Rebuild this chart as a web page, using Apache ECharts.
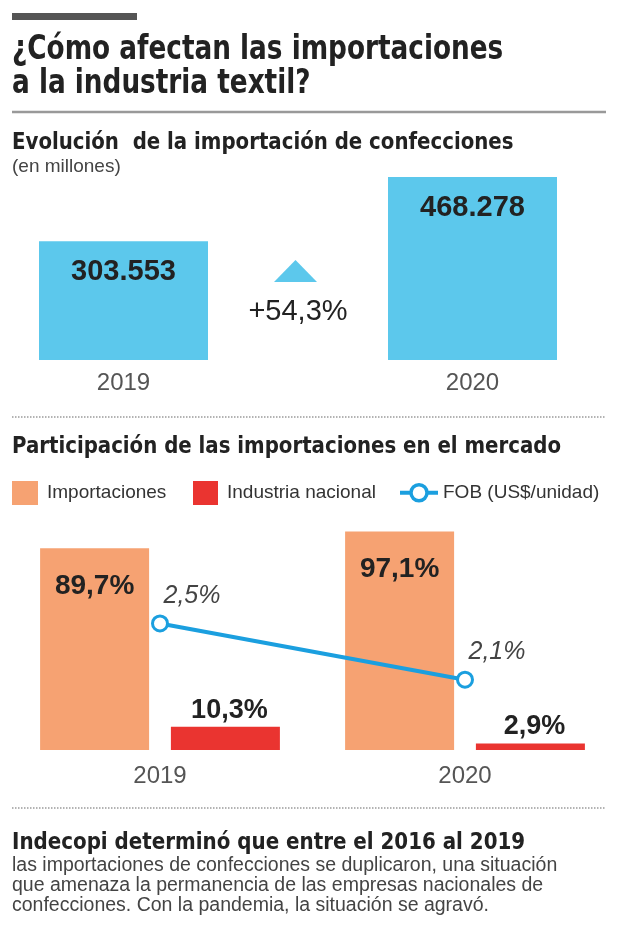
<!DOCTYPE html>
<html><head><meta charset="utf-8">
<script src="https://cdn.jsdelivr.net/npm/echarts@6/dist/echarts.min.js"></script>
<style>html,body{margin:0;padding:0;background:#fff}#c{width:640px;height:930px}</style>
</head><body><div id="c"></div>
<script>
// ---- data ----
const years = ['2019', '2020'];
const importValues = [303.553, 468.278];          // millones
const shareImports = [89.7, 97.1];                // %
const shareNational = [10.3, 2.9];                // %
const fobValues = [2.5, 2.1];                     // FOB (US$/unidad)
const legendNames = ['Importaciones', 'Industria nacional', 'FOB (US$/unidad)'];

const HF = "'DejaVu Sans Condensed','Liberation Sans',sans-serif";
const BF = "'Liberation Sans',Roboto,sans-serif";
const pct = v => v.toFixed(1).replace('.', ',') + '%';
const growth = (importValues[1] / importValues[0] - 1) * 100;

const BLUE = '#5cc8ec', ORANGE = '#f6a272', RED = '#ea3430', LINEBLUE = '#1b9fdf';

const chart = echarts.init(document.getElementById('c'), null, {renderer: 'canvas'});
const dotted = y => ({type: 'line', shape: {x1: 12, y1: y, x2: 606, y2: y},
  style: {stroke: '#9a9a9a', lineWidth: 1.5, lineDash: [1.5, 1.5]}});
const heading = (txt, y, size, sx) => ({type: 'text', x: 12, y: y, scaleX: sx,
  style: {text: txt, font: 'bold ' + size + 'px ' + HF, fill: '#222', textVerticalAlign: 'middle'}});
const body = (txt, y) => ({type: 'text', x: 12, y: y,
  style: {text: txt, font: '19.5px ' + BF, fill: '#444', textVerticalAlign: 'middle'}});

chart.setOption({
  animation: false,
  backgroundColor: '#fff',
  grid: [
    {left: 123.5, right: 167.5, top: 177, height: 183},
    {left: 7.5, width: 610, top: 525, height: 225}
  ],
  xAxis: [
    {type: 'category', gridIndex: 0, data: years, boundaryGap: false,
     axisLine: {show: false}, axisTick: {show: false}, splitLine: {show: false},
     axisLabel: {fontFamily: BF, fontSize: 24, color: '#555', margin: 11}},
    {type: 'category', gridIndex: 1, data: years, axisLine: {show: false}, axisTick: {show: false},
     axisLabel: {fontFamily: BF, fontSize: 24, color: '#555', margin: 14}}
  ],
  yAxis: [
    {type: 'value', gridIndex: 0, min: 0, max: 'dataMax', show: false},
    {type: 'value', gridIndex: 1, min: 0, max: 100, show: false},
    {type: 'value', gridIndex: 1, min: 1.6, max: 3.2, show: false}
  ],
  legend: [
    {left: 12, top: 481, padding: 0, itemWidth: 26, itemHeight: 24, icon: 'rect', selectedMode: false,
     data: [legendNames[0]], textStyle: {fontFamily: BF, fontSize: 19, color: '#333', padding: [0, 0, 0, 4]}},
    {left: 193, top: 481, padding: 0, itemWidth: 25, itemHeight: 24, icon: 'rect', selectedMode: false,
     data: [legendNames[1]], textStyle: {fontFamily: BF, fontSize: 19, color: '#333', padding: [0, 0, 0, 4]}},
    {left: 398, top: 483, padding: 0, itemWidth: 38, itemHeight: 20, selectedMode: false,
     lineStyle: {width: 4}, itemStyle: {borderWidth: 3.5},
     data: [legendNames[2]], textStyle: {fontFamily: BF, fontSize: 19, color: '#333', padding: [0, 0, 0, 0]}}
  ],
  series: [
    {type: 'bar', xAxisIndex: 0, yAxisIndex: 0, data: importValues, barWidth: 169, clip: false,
     itemStyle: {color: BLUE},
     label: {show: true, position: 'insideTop', distance: 16, fontFamily: BF, fontWeight: 'bold',
       fontSize: 29, color: '#222', formatter: p => p.value.toFixed(3)}},
    {name: legendNames[0], type: 'bar', xAxisIndex: 1, yAxisIndex: 1, data: shareImports,
     barWidth: 109, barGap: '20%', itemStyle: {color: ORANGE},
     label: {show: true, position: 'insideTop', distance: 24, fontFamily: BF, fontWeight: 'bold',
       fontSize: 28, color: '#222', formatter: p => pct(p.value)}},
    {name: legendNames[1], type: 'bar', xAxisIndex: 1, yAxisIndex: 1, data: shareNational,
     barWidth: 109, barGap: '20%', itemStyle: {color: RED},
     label: {show: true, position: 'top', distance: 3, offset: [4, 0], fontFamily: BF, fontWeight: 'bold',
       fontSize: 27, color: '#222', formatter: p => pct(p.value)}},
    {name: legendNames[2], type: 'line', xAxisIndex: 1, yAxisIndex: 2, data: fobValues,
     symbol: 'circle', symbolSize: 15, z: 5,
     lineStyle: {color: LINEBLUE, width: 4},
     itemStyle: {color: '#fff', borderColor: LINEBLUE, borderWidth: 3},
     label: {show: true, position: 'top', distance: 6, offset: [32, 0], fontFamily: BF, fontStyle: 'italic',
       fontSize: 25, color: '#444', formatter: p => pct(p.value)}}
  ],
  graphic: [
    {type: 'rect', shape: {x: 12, y: 13, width: 125, height: 7}, style: {fill: '#555'}},
    heading('¿Cómo afectan las importaciones', 50, 34, 0.86),
    heading('a la industria textil?', 84, 34, 0.86),
    {type: 'line', shape: {x1: 12, y1: 112, x2: 606, y2: 112}, style: {stroke: '#999', lineWidth: 2.5}},
    heading('Evolución  de la importación de confecciones', 143, 23, 0.955),
    {type: 'text', x: 12, y: 167, style: {text: '(en millones)', font: '19px ' + BF, fill: '#444',
      textVerticalAlign: 'middle'}},
    {type: 'polygon', shape: {points: [[274, 282], [317, 282], [295.5, 260]]}, style: {fill: BLUE}},
    {type: 'text', x: 298, y: 312, style: {text: '+' + growth.toFixed(1).replace('.', ',') + '%',
      font: '29px ' + BF, fill: '#222', textAlign: 'center', textVerticalAlign: 'middle'}},
    dotted(417),
    heading('Participación de las importaciones en el mercado', 447, 23, 0.955),
    dotted(808),
    heading('Indecopi determinó que entre el 2016 al 2019', 843, 23, 0.96),
    body('las importaciones de confecciones se duplicaron, una situación', 866),
    body('que amenaza la permanencia de las empresas nacionales de', 886),
    body('confecciones. Con la pandemia, la situación se agravó.', 906)
  ]
});
</script></body></html>
